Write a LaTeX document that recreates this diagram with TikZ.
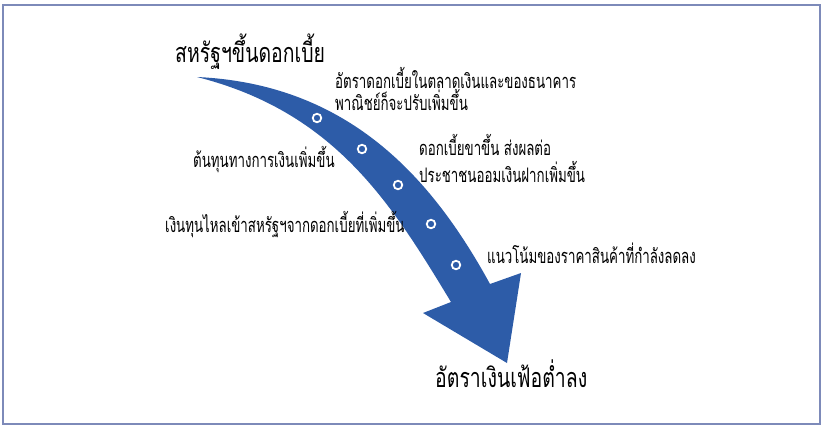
\documentclass[tikz,border=0pt]{standalone}
\usepackage{fontspec}
\newfontfamily\thaismall[Script=Thai,FakeStretch=0.665]{Loma}
\newfontfamily\thaibig[Script=Thai,FakeStretch=0.72]{Loma}
\definecolor{arrowblue}{RGB}{45,92,168}
\definecolor{framecol}{RGB}{125,138,185}
\begin{document}
\begin{tikzpicture}[x=1pt,y=-1pt,
  lbl/.style={anchor=base west, inner sep=0pt, font=\thaismall\fontsize{20}{24}\selectfont},
  big/.style={anchor=base west, inner sep=0pt, font=\thaibig\fontsize{27}{32}\selectfont},
  dot/.style={circle, draw=white, line width=1.8pt, minimum size=8.5pt, inner sep=0pt}]
\useasboundingbox (0,0) rectangle (824,429);
\draw[framecol, line width=1.5pt] (3,5) rectangle (820,424);
\fill[arrowblue] (197,77) .. controls (349,84) and (432,178) .. (490,284) -- (521,273) -- (507,363) -- (423,313) -- (451,302) .. controls (391,203) and (335,112) .. (197,77) -- cycle;
\node[dot] (c1) at (317,118) {};
\node[dot] (c2) at (362,149) {};
\node[dot] (c3) at (398,185) {};
\node[dot] (c4) at (431,224) {};
\node[dot] (c5) at (456,265) {};
\node[big] (t1) at (175,62) {สหรัฐฯขึ้นดอกเบี้ย};
\node[lbl] (a1) at (335,88) {อัตราดอกเบี้ยในตลาดเงินและของธนาคาร};
\node[lbl] (a2) at (335,110) {พาณิชย์ก็จะปรับเพิ่มขึ้น};
\node[lbl] (b) at (193,167) {ต้นทุนทางการเงินเพิ่มขึ้น};
\node[lbl] (c1t) at (419,155) {ดอกเบี้ยขาขึ้น ส่งผลต่อ};
\node[lbl] (c2t) at (419,182) {ประชาชนออมเงินฝากเพิ่มขึ้น};
\node[lbl] (d) at (165,232) {เงินทุนไหลเข้าสหรัฐฯจากดอกเบี้ยที่เพิ่มขึ้น};
\node[lbl] (e) at (487,263) {แนวโน้มของราคาสินค้าที่กำลังลดลง};
\node[big] (t2) at (435,387) {อัตราเงินเฟ้อต่ำลง};
\end{tikzpicture}
\end{document}
